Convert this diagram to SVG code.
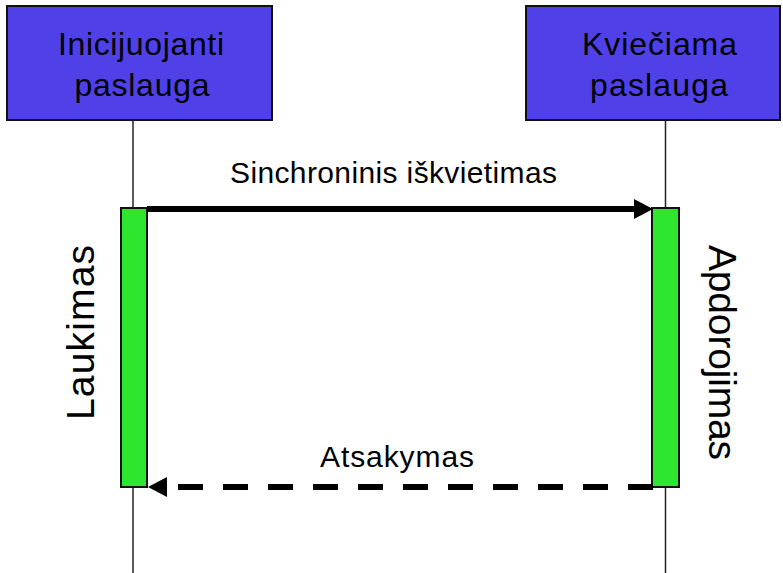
<svg xmlns="http://www.w3.org/2000/svg" width="783" height="573" viewBox="0 0 783 573">
  <style>
    .service { fill: #5040E8; stroke: #111; stroke-width: 2; }
    .lifeline { stroke: #222; stroke-width: 1.5; fill: none; }
    .activation { fill: #2EE62E; stroke: #111; stroke-width: 2; }
    .label { font-family: "Liberation Sans", Arial, sans-serif; fill: #000; }
    .title { font-size: 32px; text-anchor: middle; }
    .msg { font-size: 30px; text-anchor: middle; }
    .state { font-size: 39px; text-anchor: middle; }
    .call { stroke: #000; stroke-width: 6; fill: none; }
    .reply { stroke: #000; stroke-width: 6; fill: none; stroke-dasharray: 25 20; }
  </style>
  <defs>
    <marker id="head" markerUnits="userSpaceOnUse" markerWidth="20" markerHeight="20" refX="0" refY="10" orient="auto" overflow="visible">
      <path d="M0,0 L19,10 L0,20 Z" fill="#000"/>
    </marker>
  </defs>
  <rect width="783" height="573" fill="#fff"/>

  <!-- lifelines -->
  <g id="lifelines">
    <line class="lifeline" x1="133" y1="120" x2="133" y2="573"/>
    <line class="lifeline" x1="665.5" y1="120" x2="665.5" y2="573"/>
  </g>

  <g id="caller">
    <rect class="service" x="7" y="6" width="265" height="114"/>
    <text class="label title" x="141" y="55" textLength="166" lengthAdjust="spacing">Inicijuojanti</text>
    <text class="label title" x="142" y="96" textLength="135" lengthAdjust="spacing">paslauga</text>
  </g>

  <g id="callee">
    <rect class="service" x="526" y="6" width="254" height="114"/>
    <text class="label title" x="659.5" y="55" textLength="155" lengthAdjust="spacing">Kviečiama</text>
    <text class="label title" x="659" y="96" textLength="138" lengthAdjust="spacing">paslauga</text>
  </g>

  <g id="waiting">
    <rect class="activation" x="121" y="208" width="26" height="279"/>
    <text class="label state" transform="translate(94,332.5) rotate(-90)" x="0" y="0" textLength="175" lengthAdjust="spacing">Laukimas</text>
  </g>

  <g id="processing">
    <rect class="activation" x="652" y="208" width="27" height="279"/>
    <text class="label state" transform="translate(709,352.5) rotate(90)" x="0" y="0" textLength="215" lengthAdjust="spacing">Apdorojimas</text>
  </g>

  <g id="connectors">
    <path class="call" d="M147,209 L634,209" marker-end="url(#head)"/>
    <text class="label msg" x="393.5" y="183" textLength="327" lengthAdjust="spacing">Sinchroninis iškvietimas</text>
    <path class="reply" d="M653,487 L167,487" marker-end="url(#head)"/>
    <text class="label msg" x="397" y="467" textLength="154" lengthAdjust="spacing">Atsakymas</text>
  </g>
</svg>
